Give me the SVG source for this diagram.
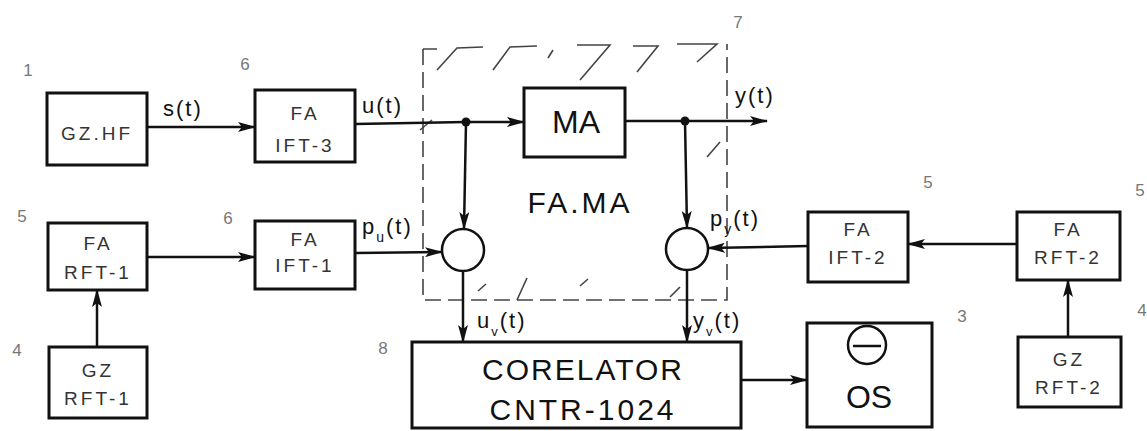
<svg xmlns="http://www.w3.org/2000/svg" width="1147" height="431" viewBox="0 0 1147 431">
<defs>
<marker id="arr" markerUnits="userSpaceOnUse" markerWidth="18" markerHeight="10" refX="17" refY="5" orient="auto">
<path d="M0,0 L18,5 L0,10 L4,5 z" fill="#111"/>
</marker>
<style>
.box{fill:#fff;stroke:#111;stroke-width:3}
.bt{font-family:"Liberation Sans",Arial,sans-serif;font-size:19px;fill:#333;text-anchor:middle;letter-spacing:3px}
.big{font-family:"Liberation Sans",Arial,sans-serif;fill:#111;text-anchor:middle}
.sig{font-family:"Liberation Sans",Arial,sans-serif;font-size:22px;fill:#111;letter-spacing:2px}
.num{font-family:"Liberation Sans",Arial,sans-serif;font-size:17px;fill:#777;text-anchor:middle}
.ln{fill:none;stroke:#111;stroke-width:2.5}
.dash{fill:none;stroke:#444;stroke-width:1.6;stroke-dasharray:16 7}
.hat{fill:none;stroke:#444;stroke-width:1.6}
.circ{fill:#fff;stroke:#111;stroke-width:2.5}
</style>
</defs>
<rect width="1147" height="431" fill="#fff"/>

<g id="fama-boundary">
<path class="dash" d="M423,49 L423,300 L727,300 L727,44"/>
<path class="hat" d="M423,49 L437,49 M437,70 L457,48 L483,47 M493,70 L510,47 L537,46 M553,50 L548,58 M577,45 L610,45 L580,80 M633,46 L658,46 L637,72 M677,44 L717,44 L697,62 M707,157 L720,142 M478,291 L486,284 M517,300 L527,278 M580,286 L588,279 M670,297 L680,287 M420,130 L432,120"/>
<text class="big" x="580" y="213" font-size="30" letter-spacing="3">FA.MA</text>
</g>

<g id="connectors">
<path class="ln" d="M147,127 L255,127" marker-end="url(#arr)"/>
<path class="ln" d="M355,124 L466,122 L524,122" marker-end="url(#arr)"/>
<path class="ln" d="M625,121 L767,121" marker-end="url(#arr)"/>
<path class="ln" d="M466,122 L464,229" marker-end="url(#arr)"/>
<path class="ln" d="M685,121 L687,228" marker-end="url(#arr)"/>
<path class="ln" d="M147,257 L255,257" marker-end="url(#arr)"/>
<path class="ln" d="M355,253 L442,252" marker-end="url(#arr)"/>
<path class="ln" d="M97,347 L97,290" marker-end="url(#arr)"/>
<path class="ln" d="M463,271 L463,342" marker-end="url(#arr)"/>
<path class="ln" d="M687,270 L687,342" marker-end="url(#arr)"/>
<path class="ln" d="M1017,244 L908,244" marker-end="url(#arr)"/>
<path class="ln" d="M808,246 L708,248" marker-end="url(#arr)"/>
<path class="ln" d="M1068,337 L1068,280" marker-end="url(#arr)"/>
<path class="ln" d="M741,380 L807,380" marker-end="url(#arr)"/>
<circle cx="466" cy="122" r="4.5" fill="#111"/>
<circle cx="685" cy="121" r="4.5" fill="#111"/>
<text class="sig" x="163" y="116" font-size="24" letter-spacing="3">s(t)</text>
<text class="sig" x="362" y="113">u(t)</text>
<text class="sig" x="735" y="103">y(t)</text>
<text class="sig" x="362" y="234">p<tspan font-size="14" baseline-shift="sub">u</tspan>(t)</text>
<text class="sig" x="710" y="226">p<tspan font-size="14" baseline-shift="sub">y</tspan>(t)</text>
<text class="sig" x="477" y="328" font-size="20">u<tspan font-size="13" baseline-shift="sub">v</tspan>(t)</text>
<text class="sig" x="693" y="328" font-size="20">y<tspan font-size="13" baseline-shift="sub">v</tspan>(t)</text>
</g>

<g id="gz-hf">
<rect class="box" x="47" y="93" width="100" height="72"/>
<text class="bt" x="97" y="140" font-size="21">GZ.HF</text>
<text class="num" x="28" y="76">1</text>
</g>

<g id="fa-ift-3">
<rect class="box" x="255" y="90" width="100" height="72"/>
<text class="bt" x="305" y="120" font-size="21">FA</text>
<text class="bt" x="305" y="152" font-size="20" letter-spacing="5">IFT-3</text>
<text class="num" x="245" y="70">6</text>
</g>

<g id="ma">
<rect class="box" x="524" y="88" width="101" height="69"/>
<text class="big" x="576" y="133" font-size="32">MA</text>
</g>

<g id="fa-rft-1">
<rect class="box" x="48" y="223" width="99" height="67"/>
<text class="bt" x="98" y="250">FA</text>
<text class="bt" x="98" y="279">RFT-1</text>
<text class="num" x="22" y="222">5</text>
</g>

<g id="gz-rft-1">
<rect class="box" x="49" y="347" width="98" height="71"/>
<text class="bt" x="98" y="377">GZ</text>
<text class="bt" x="98" y="405">RFT-1</text>
<text class="num" x="17" y="356">4</text>
</g>

<g id="fa-ift-1">
<rect class="box" x="255" y="221" width="100" height="68"/>
<text class="bt" x="305" y="246">FA</text>
<text class="bt" x="305" y="272">IFT-1</text>
<text class="num" x="228" y="224">6</text>
</g>

<g id="sum-u">
<circle class="circ" cx="463" cy="250" r="21"/>
</g>

<g id="sum-y">
<circle class="circ" cx="687" cy="249" r="21"/>
</g>

<g id="corelator">
<rect class="box" x="412" y="342" width="329" height="86"/>
<text class="big" x="583" y="380" font-size="30" letter-spacing="2" fill="#222">CORELATOR</text>
<text class="big" x="583" y="420" font-size="30" letter-spacing="3" fill="#222">CNTR-1024</text>
<text class="num" x="383" y="354">8</text>
</g>

<g id="os">
<rect class="box" x="807" y="323" width="125" height="104"/>
<circle cx="867" cy="345" r="19" fill="none" stroke="#111" stroke-width="2.5"/>
<path class="ln" d="M853,346 L881,346"/>
<text class="big" x="869" y="408" font-size="32" fill="#222">OS</text>
<text class="num" x="962" y="322">3</text>
</g>

<g id="fa-ift-2">
<rect class="box" x="808" y="212" width="100" height="70"/>
<text class="bt" x="858" y="236">FA</text>
<text class="bt" x="858" y="264">IFT-2</text>
<text class="num" x="928" y="188">5</text>
</g>

<g id="fa-rft-2">
<rect class="box" x="1017" y="212" width="103" height="68"/>
<text class="bt" x="1068" y="236">FA</text>
<text class="bt" x="1068" y="264">RFT-2</text>
<text class="num" x="1140" y="196">5</text>
</g>

<g id="gz-rft-2">
<rect class="box" x="1018" y="337" width="103" height="70"/>
<text class="bt" x="1069" y="366">GZ</text>
<text class="bt" x="1069" y="394">RFT-2</text>
<text class="num" x="1142" y="316">4</text>
</g>

<g id="label-7">
<text class="num" x="738" y="28">7</text>
</g>
</svg>
